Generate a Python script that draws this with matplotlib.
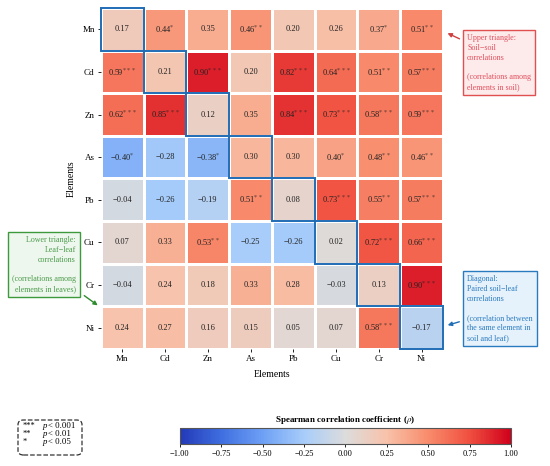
import numpy as np
import matplotlib
matplotlib.use('Agg')
import matplotlib.pyplot as plt
from matplotlib.colors import LinearSegmentedColormap, Normalize
from matplotlib.cm import ScalarMappable
from matplotlib.patches import Rectangle, FancyBboxPatch, FancyArrowPatch

plt.rcParams['font.family'] = ['Liberation Serif', 'DejaVu Serif']
plt.rcParams['mathtext.fontset'] = 'stix'

# Elements (rows and columns)
elements = ['Mn', 'Cd', 'Zn', 'As', 'Pb', 'Cu', 'Cr', 'Ni']

# Spearman rho: upper = soil-soil, lower = leaf-leaf, diagonal = soil-leaf
rho = np.array([
    [0.17, 0.44, 0.35, 0.46, 0.20, 0.26, 0.37, 0.51],
    [0.59, 0.21, 0.90, 0.20, 0.82, 0.64, 0.51, 0.57],
    [0.62, 0.85, 0.12, 0.35, 0.84, 0.73, 0.58, 0.59],
    [-0.40, -0.28, -0.38, 0.30, 0.30, 0.40, 0.48, 0.46],
    [-0.04, -0.26, -0.19, 0.51, 0.08, 0.73, 0.55, 0.57],
    [0.07, 0.33, 0.53, -0.25, -0.26, 0.02, 0.72, 0.66],
    [-0.04, 0.24, 0.18, 0.33, 0.28, -0.03, 0.13, 0.90],
    [0.24, 0.27, 0.16, 0.15, 0.05, 0.07, 0.58, -0.17],
])

# significance stars
stars = [
    ['', '*', '', '**', '', '', '*', '**'],
    ['***', '', '***', '', '***', '***', '**', '***'],
    ['***', '***', '', '', '***', '***', '***', '***'],
    ['*', '', '*', '', '', '*', '**', '**'],
    ['', '', '', '**', '', '***', '**', '***'],
    ['', '', '**', '', '', '', '***', '***'],
    ['', '', '', '', '', '', '', '***'],
    ['', '', '', '', '', '', '***', ''],
]

sig_marks = ['***', '**', '*']
sig_limits = ['< 0.001', '< 0.01', '< 0.05']

cbar_ticks = [-1.0, -0.75, -0.5, -0.25, 0.0, 0.25, 0.5, 0.75, 1.0]

cmap = LinearSegmentedColormap.from_list('rho', [
    (0.0, '#2339b8'), (0.125, '#3f6fe0'), (0.25, '#6ea0f5'), (0.375, '#a8cdfa'),
    (0.5, '#dcdcdc'), (0.625, '#f8c2aa'), (0.75, '#f88c6c'), (0.875, '#f05040'),
    (1.0, '#d0001c')])
norm = Normalize(vmin=-1, vmax=1)

fig = plt.figure(figsize=(5.5, 4.66), dpi=100)
ax = fig.add_axes([0.1836, 0.2511, 0.6218, 0.7318])

n = len(elements)
ax.pcolormesh(np.arange(n + 1), np.arange(n + 1), rho, cmap=cmap, norm=norm,
              edgecolors='white', linewidth=0.8)
ax.set_xlim(0, n)
ax.set_ylim(n, 0)

for i in range(n):
    for j in range(n):
        s = stars[i][j]
        txt = f'{rho[i, j]:.2f}'.replace('-', '\u2212')
        if s:
            txt = txt + r'$^{' + r'\,'.join(['*'] * len(s)) + r'}$'
        ax.text(j + 0.5, i + 0.5, txt, ha='center', va='center', fontsize=6, color='#222222')

# outline the diagonal
for k in range(n):
    ax.add_patch(Rectangle((k, k), 1, 1, fill=False, edgecolor='#1f6db5', lw=1.4, zorder=5,
                           clip_on=False))

ax.set_xticks(np.arange(n) + 0.5)
ax.set_yticks(np.arange(n) + 0.5)
ax.set_xticklabels(elements, fontsize=6.5)
ax.set_yticklabels(elements, fontsize=6.5)
ax.tick_params(length=2.5, width=0.6, pad=2)
for sp in ax.spines.values():
    sp.set_visible(False)
ax.set_xlabel('Elements', fontsize=7, labelpad=5)
ax.set_ylabel('Elements', fontsize=7, labelpad=5)

# annotation boxes
box_kw = dict(fontsize=5.8, va='top', linespacing=1.3)
fig.text(467 / 550, 1 - 34 / 466, 'Upper triangle:\nSoil\u2212soil\ncorrelations\n\n(correlations among\nelements in soil)',
         color='#e0505e', ha='left',
         bbox=dict(boxstyle='square,pad=0.5', fc='#fdeaea', ec='#e05050', lw=1.0), **box_kw)

fig.text(76 / 550, 1 - 236 / 466, 'Lower triangle:\nLeaf\u2212leaf\ncorrelations\n\n(correlations among\nelements in leaves)',
         color='#4a9a4a', ha='right', multialignment='right',
         bbox=dict(boxstyle='square,pad=0.5', fc='#eef7ee', ec='#3c9a3c', lw=1.0), **box_kw)

fig.text(467 / 550, 1 - 275 / 466, 'Diagonal:\nPaired soil\u2212leaf\ncorrelations\n\n(correlation between\nthe same element in\nsoil and leaf)',
         color='#2a7ac0', ha='left',
         bbox=dict(boxstyle='square,pad=0.5', fc='#e6f2fb', ec='#2a7ac0', lw=1.0), **box_kw)

# arrows
for p0, p1, c in [((462, 40), (445, 32), '#d04040'),
                  ((82, 294), (100, 307), '#2e8b2e'),
                  ((462, 321), (445, 326), '#1f6db5')]:
    fig.add_artist(FancyArrowPatch((p0[0] / 550, 1 - p0[1] / 466), (p1[0] / 550, 1 - p1[1] / 466),
                                   transform=fig.transFigure, arrowstyle='-|>', mutation_scale=6,
                                   color=c, lw=1.0))

# significance legend
sig_y = 1 - 434 / 466
fig.text(23 / 550, sig_y, '\n'.join(sig_marks), fontsize=6, ha='left', va='center', linespacing=0.95)
fig.text(43 / 550, sig_y, '\n'.join(['p'] * 3), fontsize=6.3, ha='left', va='center',
         linespacing=0.95, fontstyle='italic')
fig.text(48.5 / 550, sig_y, '\n'.join(sig_limits), fontsize=6.3, ha='left', va='center', linespacing=0.95)
fig.add_artist(FancyBboxPatch((18 / 550, 1 - 455 / 466), 64 / 550, 35 / 466, transform=fig.transFigure,
                              boxstyle='round,pad=0,rounding_size=0.01', fc='white', ec='#333333',
                              lw=0.9, ls='--', zorder=0))

# colorbar
cax = fig.add_axes([0.327, 0.0472, 0.602, 0.0343])
cb = fig.colorbar(ScalarMappable(norm=norm, cmap=cmap), cax=cax, orientation='horizontal', ticks=cbar_ticks)
cb.ax.set_xticklabels([f'{t:.2f}'.replace('-', '\u2212') for t in cbar_ticks], fontsize=6)
cb.ax.tick_params(length=2.5, width=0.6, pad=2)
cb.outline.set_edgecolor('#555555')
cb.ax.set_title(r'Spearman correlation coefficient ($\rho$)', fontsize=6.5, fontweight='bold', pad=4)

fig.savefig('out.png', dpi=100)
